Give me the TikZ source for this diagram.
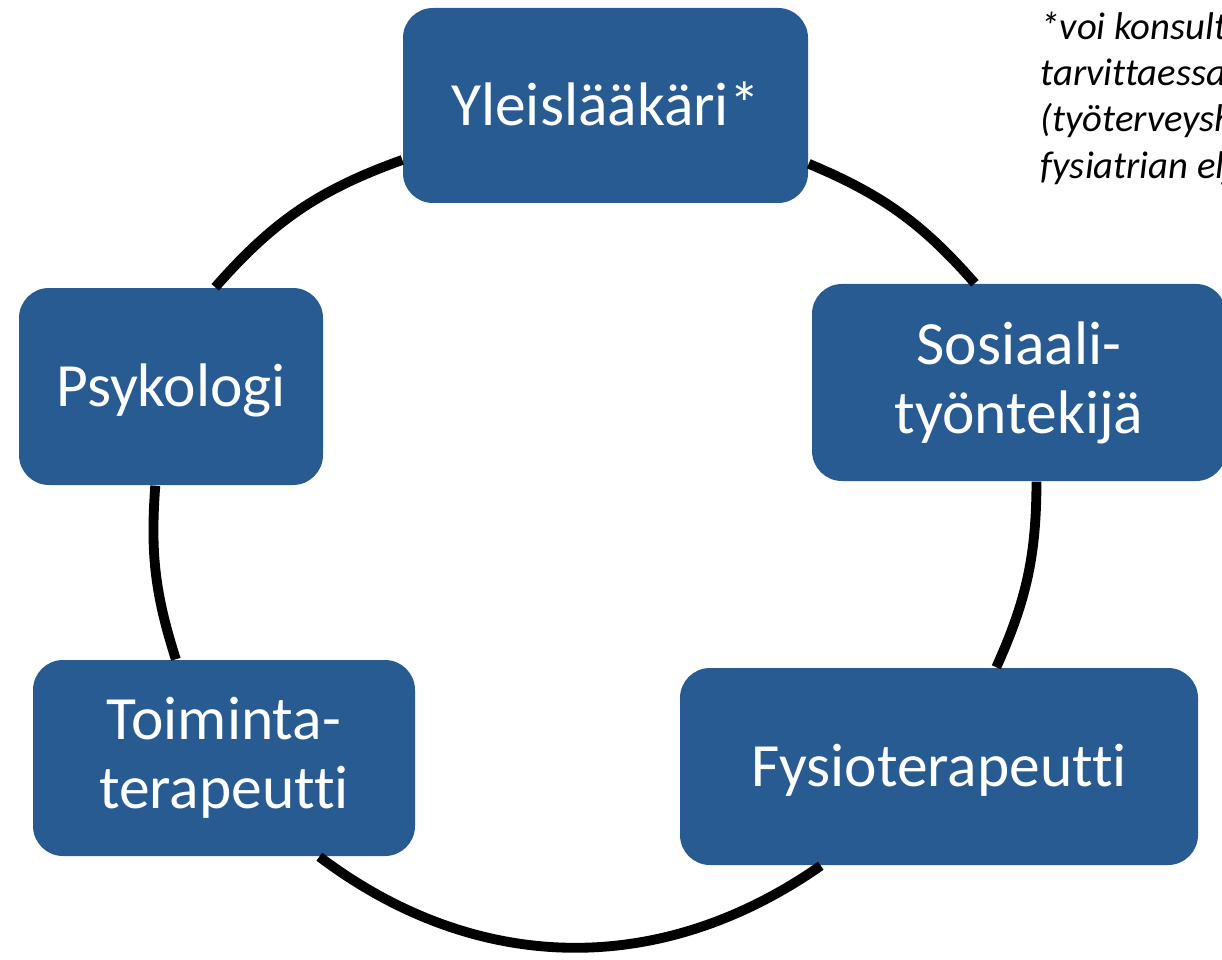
\documentclass[tikz,border=0pt]{standalone}
\usepackage{fontspec}
\setmainfont{Carlito}[Ligatures=NoCommon]
\usepackage{tikz}
\definecolor{boxblue}{HTML}{275B92}
\definecolor{ink}{HTML}{000000}
\tikzset{
  role/.style={rectangle, rounded corners=0.3cm, fill=boxblue, text=white,
    font=\fontsize{17.5}{19.6}\selectfont, align=center, inner sep=0pt},
  oneline/.style={text height=14pt, text depth=2.8pt},
  link/.style={line width=2.8pt, draw=ink},
  note/.style={font=\fontsize{11}{13.2}\selectfont\itshape, align=left,
    anchor=north west, inner sep=0pt}
}

\begin{document}
\begin{tikzpicture}
  \clip (0,0) rectangle (12.22,-9.59);

  % team members round the cycle
  \node[role, oneline, minimum width=4.05cm, minimum height=1.95cm] (yl) at (6.055,-1.055) {Yleislääkäri*};
  \node[role, minimum width=4.14cm, minimum height=1.97cm] (sos) at (10.19,-3.825) {Sosiaali-\\työntekijä};
  \node[role, oneline, minimum width=5.18cm, minimum height=1.97cm] (fys) at (9.39,-7.665) {Fysioterapeutti};
  \node[role, minimum width=3.82cm, minimum height=1.96cm] (toi) at (2.24,-7.58) {Toiminta-\\terapeutti};
  \node[role, oneline, minimum width=3.04cm, minimum height=1.97cm] (psy) at (1.71,-3.865) {Psykologi};

  % arcs of the ring
  \draw[link] (yl.344) to[bend left=13] (sos.114);
  \draw[link] (sos.280) to[bend left=12] (fys.60);
  \draw[link] (fys.220) to[bend left=36] (toi.314);
  \draw[link] (toi.116) to[bend left=11] (psy.261);
  \draw[link] (psy.66) to[bend left=14.5] (yl.195);

  % footnote, cut by the right edge
  \node[note] (fn) at (10.40,-0.11) {*voi konsult\\tarvittaessa\\(työterveysh\\fysiatrian elj};
\end{tikzpicture}
\end{document}
